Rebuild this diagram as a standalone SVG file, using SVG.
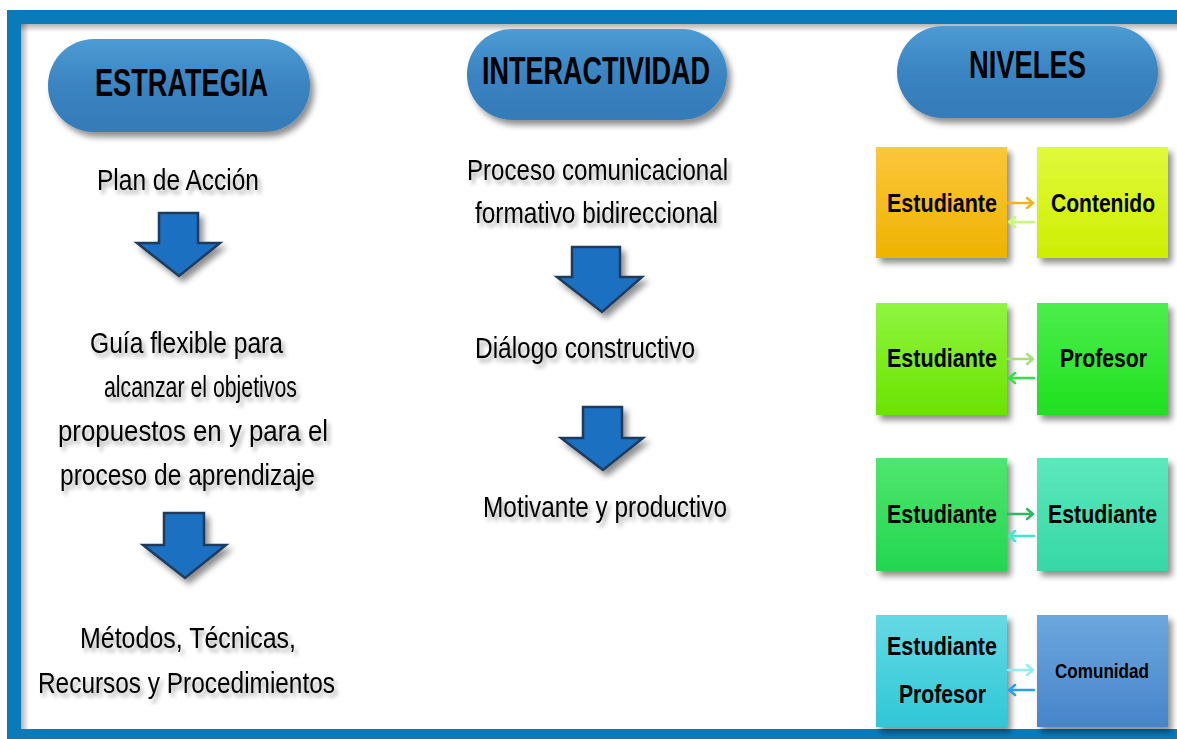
<svg xmlns="http://www.w3.org/2000/svg" width="1177" height="739" viewBox="0 0 1177 739">
<defs>
<linearGradient id="gPill" x1="0" y1="0" x2="0" y2="1">
<stop offset="0" stop-color="#4c9bd5"/><stop offset="0.5" stop-color="#3a84c1"/><stop offset="1" stop-color="#347bb8"/>
</linearGradient>
<linearGradient id="gOr" x1="0" y1="0" x2="0" y2="1"><stop offset="0" stop-color="#fcc63c"/><stop offset="1" stop-color="#efb300"/></linearGradient>
<linearGradient id="gYe" x1="0" y1="0" x2="0" y2="1"><stop offset="0" stop-color="#e0fa3c"/><stop offset="1" stop-color="#ceee00"/></linearGradient>
<linearGradient id="gLg" x1="0" y1="0" x2="0" y2="1"><stop offset="0" stop-color="#8ff540"/><stop offset="1" stop-color="#6be300"/></linearGradient>
<linearGradient id="gGr" x1="0" y1="0" x2="0" y2="1"><stop offset="0" stop-color="#4cee4c"/><stop offset="1" stop-color="#1fe01f"/></linearGradient>
<linearGradient id="gMg" x1="0" y1="0" x2="0" y2="1"><stop offset="0" stop-color="#50e66e"/><stop offset="1" stop-color="#22d650"/></linearGradient>
<linearGradient id="gTq" x1="0" y1="0" x2="0" y2="1"><stop offset="0" stop-color="#5ce8bc"/><stop offset="1" stop-color="#36d7a6"/></linearGradient>
<linearGradient id="gCy" x1="0" y1="0" x2="0" y2="1"><stop offset="0" stop-color="#66d9e4"/><stop offset="1" stop-color="#2fc7d7"/></linearGradient>
<linearGradient id="gBl" x1="0" y1="0" x2="0" y2="1"><stop offset="0" stop-color="#6ca7de"/><stop offset="1" stop-color="#4784cb"/></linearGradient>
<linearGradient id="gTopSh" x1="0" y1="0" x2="0" y2="1"><stop offset="0" stop-color="#000" stop-opacity="0.3"/><stop offset="1" stop-color="#000" stop-opacity="0"/></linearGradient>
<linearGradient id="gLeftSh" x1="0" y1="0" x2="1" y2="0"><stop offset="0" stop-color="#000" stop-opacity="0.3"/><stop offset="1" stop-color="#000" stop-opacity="0"/></linearGradient>
<filter id="shadow" x="-20%" y="-20%" width="150%" height="150%">
<feGaussianBlur in="SourceAlpha" stdDeviation="3"/><feOffset dx="4" dy="5" result="b"/>
<feComponentTransfer><feFuncA type="linear" slope="0.45"/></feComponentTransfer>
<feMerge><feMergeNode/><feMergeNode in="SourceGraphic"/></feMerge>
</filter>
<filter id="tshadow" x="-10%" y="-30%" width="130%" height="180%">
<feGaussianBlur in="SourceAlpha" stdDeviation="2"/><feOffset dx="3" dy="4" result="b"/>
<feComponentTransfer><feFuncA type="linear" slope="0.35"/></feComponentTransfer>
<feMerge><feMergeNode/><feMergeNode in="SourceGraphic"/></feMerge>
</filter>
</defs>
<style>
.pill{fill:url(#gPill);filter:url(#shadow)}
.hd{font-family:"Liberation Sans",Arial,sans-serif;font-weight:bold;font-size:38px;fill:#000}
.tx{font-family:"Liberation Sans",Arial,sans-serif;font-size:30px;fill:#000;filter:url(#tshadow)}
.bx{filter:url(#shadow)}
.bt{font-family:"Liberation Sans",Arial,sans-serif;font-weight:bold;font-size:25px;fill:#000}
.down{fill:#1f70c2;stroke:#1b3b5e;stroke-width:2.5;stroke-linejoin:miter;filter:url(#shadow)}
.lk{fill:none;stroke-width:2.5;stroke-linecap:round;stroke-linejoin:round}
</style>
<rect x="0" y="0" width="1177" height="739" fill="#ffffff"/>
<g id="frame">
<rect x="7" y="10" width="1200" height="740" fill="#0a7ab9"/>
<rect x="21" y="24" width="1200" height="705" fill="#ffffff"/>
<rect x="21" y="24" width="1200" height="8" fill="url(#gTopSh)"/>
<rect x="21" y="24" width="8" height="705" fill="url(#gLeftSh)"/>
</g>
<g id="h-estrategia">
<rect class="pill" x="48" y="39" width="262" height="93" rx="46"/>
<text class="hd" x="95" y="96" textLength="173" lengthAdjust="spacingAndGlyphs">ESTRATEGIA</text>
</g>
<g id="h-interactividad">
<rect class="pill" x="467" y="29" width="260" height="91" rx="45"/>
<text class="hd" x="482" y="84" textLength="228" lengthAdjust="spacingAndGlyphs">INTERACTIVIDAD</text>
</g>
<g id="h-niveles">
<rect class="pill" x="897" y="26" width="261" height="92" rx="46"/>
<text class="hd" x="969" y="78" textLength="117" lengthAdjust="spacingAndGlyphs">NIVELES</text>
</g>
<g id="e1"><text class="tx" x="97" y="190" textLength="162" lengthAdjust="spacingAndGlyphs">Plan de Acción</text></g>
<g id="e2">
<text class="tx" x="90" y="353" textLength="193" lengthAdjust="spacingAndGlyphs">Guía flexible para</text>
<text class="tx" x="104" y="397" textLength="193" lengthAdjust="spacingAndGlyphs">alcanzar el objetivos</text>
<text class="tx" x="58" y="441" textLength="270" lengthAdjust="spacingAndGlyphs">propuestos en y para el</text>
<text class="tx" x="60" y="485" textLength="255" lengthAdjust="spacingAndGlyphs">proceso de aprendizaje</text>
</g>
<g id="e3">
<text class="tx" x="80" y="648" textLength="216" lengthAdjust="spacingAndGlyphs">Métodos, Técnicas,</text>
<text class="tx" x="38" y="693" textLength="297" lengthAdjust="spacingAndGlyphs">Recursos y Procedimientos</text>
</g>
<g id="i1">
<text class="tx" x="467" y="180" textLength="261" lengthAdjust="spacingAndGlyphs">Proceso comunicacional</text>
<text class="tx" x="475" y="223" textLength="243" lengthAdjust="spacingAndGlyphs">formativo bidireccional</text>
</g>
<g id="i2"><text class="tx" x="475" y="358" textLength="220" lengthAdjust="spacingAndGlyphs">Diálogo constructivo</text></g>
<g id="i3"><text class="tx" x="483" y="517" textLength="244" lengthAdjust="spacingAndGlyphs">Motivante y productivo</text></g>
<g id="n1a"><rect class="bx" x="876" y="147" width="131" height="111" fill="url(#gOr)"/>
<text class="bt" x="887" y="212" textLength="110" lengthAdjust="spacingAndGlyphs">Estudiante</text></g>
<g id="n1b"><rect class="bx" x="1037" y="147" width="131" height="111" fill="url(#gYe)"/>
<text class="bt" x="1051" y="212" textLength="104" lengthAdjust="spacingAndGlyphs">Contenido</text></g>
<g id="n2a"><rect class="bx" x="876" y="303" width="131" height="112" fill="url(#gLg)"/>
<text class="bt" x="887" y="367" textLength="110" lengthAdjust="spacingAndGlyphs">Estudiante</text></g>
<g id="n2b"><rect class="bx" x="1037" y="303" width="131" height="112" fill="url(#gGr)"/>
<text class="bt" x="1060" y="367" textLength="87" lengthAdjust="spacingAndGlyphs">Profesor</text></g>
<g id="n3a"><rect class="bx" x="876" y="458" width="131" height="113" fill="url(#gMg)"/>
<text class="bt" x="887" y="523" textLength="110" lengthAdjust="spacingAndGlyphs">Estudiante</text></g>
<g id="n3b"><rect class="bx" x="1037" y="458" width="131" height="113" fill="url(#gTq)"/>
<text class="bt" x="1048" y="523" textLength="109" lengthAdjust="spacingAndGlyphs">Estudiante</text></g>
<g id="n4a"><rect class="bx" x="876" y="615" width="131" height="112" fill="url(#gCy)"/>
<text class="bt" x="887" y="655" textLength="110" lengthAdjust="spacingAndGlyphs">Estudiante</text>
<text class="bt" x="899" y="703" textLength="87" lengthAdjust="spacingAndGlyphs">Profesor</text></g>
<g id="n4b"><rect class="bx" x="1037" y="615" width="131" height="112" fill="url(#gBl)"/>
<text class="bt" x="1055" y="678" style="font-size:21px" textLength="94" lengthAdjust="spacingAndGlyphs">Comunidad</text></g>
<g id="connectors">
<polygon class="down" points="159,213 198,213 198,243 220,243 179,276 137,243 159,243"/>
<polygon class="down" points="164,513 204,513 204,545 226,545 185,578 143,545 164,545"/>
<polygon class="down" points="572,247 620,247 620,277 642,277 602,312 557,277 572,277"/>
<polygon class="down" points="583,407 622,407 622,438 643,438 603,470 561,438 583,438"/>
<path class="lk" stroke="#f5b21e" d="M1008,203 H1033 M1027,198 L1033,203 L1027,208"/>
<path class="lk" stroke="#c8f97c" d="M1034,222 H1009 M1015,217 L1009,222 L1015,227"/>
<path class="lk" stroke="#a6e07c" d="M1008,359 H1033 M1027,354 L1033,359 L1027,364"/>
<path class="lk" stroke="#33e04c" d="M1034,378 H1009 M1015,373 L1009,378 L1015,383"/>
<path class="lk" stroke="#2db866" d="M1008,514 H1033 M1027,509 L1033,514 L1027,519"/>
<path class="lk" stroke="#3fe8c8" d="M1034,536 H1009 M1015,531 L1009,536 L1015,541"/>
<path class="lk" stroke="#92eef2" d="M1008,670 H1033 M1027,665 L1033,670 L1027,675"/>
<path class="lk" stroke="#2a9ef0" d="M1034,690 H1009 M1015,685 L1009,690 L1015,695"/>
</g>
</svg>
